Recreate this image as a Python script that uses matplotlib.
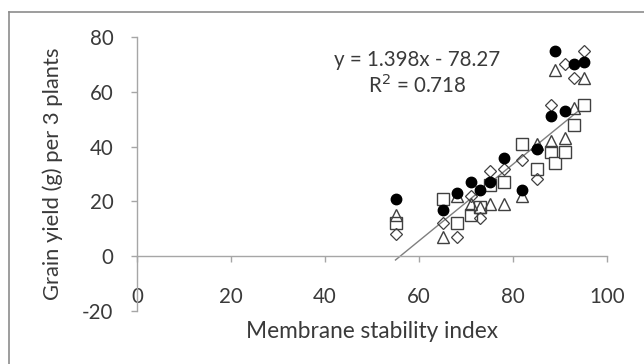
import matplotlib
matplotlib.use("Agg")
import matplotlib.pyplot as plt
import numpy as np
from matplotlib.lines import Line2D

plt.rcParams['font.family'] = ['Lato', 'DejaVu Sans']

# Data (Membrane stability index, grain yield)
circ_x = [55, 65, 68, 71, 73, 75, 78, 82, 85, 88, 89, 91, 93, 95]
circ_y = [21, 17, 23, 27, 24, 27, 36, 24, 39, 51, 75, 53, 70, 71]
sq_x = [55, 65, 68, 71, 73, 75, 78, 82, 85, 88, 89, 91, 93, 95]
sq_y = [12, 21, 12, 15, 18, 26, 27, 41, 32, 38, 34, 38, 48, 55]
tri_x = [55, 65, 68, 71, 73, 75, 78, 82, 85, 88, 89, 91, 93, 95]
tri_y = [15, 7, 22, 19, 18, 19, 19, 22, 41, 42, 68, 43, 54, 65]
dia_x = [55, 65, 68, 71, 73, 75, 78, 82, 85, 88, 91, 93, 95]
dia_y = [8, 12, 7, 22, 14, 31, 32, 35, 28, 55, 70, 65, 75]
slope, intercept = 1.398, -78.27
fit_x = [55, 95]
x_ticks = [0, 20, 40, 60, 80, 100]
y_ticks = [-20, 0, 20, 40, 60, 80]

W, H = 644, 364
fig = plt.figure(figsize=(W / 100, H / 100), dpi=100)
ax = fig.add_axes([137 / W, 1 - 311 / H, 470 / W, 274 / H])

txt = '#3a3a3a'
axc = '#a6a6a6'
edge = '#404040'
fs = 14.8

ax.plot(sq_x, sq_y, 's', ms=8.5, mfc='white', mec=edge, mew=1.0, zorder=3)
ax.plot(tri_x, tri_y, '^', ms=8.5, mfc='none', mec=edge, mew=1.0, zorder=4)
ax.plot(dia_x, dia_y, 'D', ms=6, mfc='none', mec=edge, mew=0.9, zorder=4)
ax.plot(circ_x, circ_y, 'o', ms=7.5, mfc='black', mec='black', zorder=5)
fx = np.array(fit_x, dtype=float)
ax.plot(fx, slope * fx + intercept, '-', color='#7f7f7f', lw=1.0, zorder=2)

ax.set_xlim(0, 100)
ax.set_ylim(-20, 80)
ax.set_xticks(x_ticks)
ax.set_yticks(y_ticks)
ax.set_xticklabels([str(v) for v in x_ticks])
ax.set_yticklabels([str(v) for v in y_ticks])

for s in ['top', 'right']:
    ax.spines[s].set_visible(False)
ax.spines['bottom'].set_position(('data', 0))
ax.spines['left'].set_position(('data', 0))
for s in ['bottom', 'left']:
    ax.spines[s].set_color(axc)
    ax.spines[s].set_linewidth(1.0)

ax.tick_params(axis='x', direction='out', length=4, width=1, color=axc,
               labelsize=fs, labelcolor=txt, pad=18)
ax.tick_params(axis='y', direction='out', length=4, width=1, color=axc,
               labelsize=fs, labelcolor=txt, pad=13)

ax.set_xlabel('Membrane stability index', fontsize=16.3, color=txt)
ax.xaxis.set_label_coords(0.5, -0.075)
ax.xaxis.label.set_verticalalignment('center')
ax.set_ylabel('Grain yield (g) per 3 plants', fontsize=15.8, color=txt)
ax.yaxis.set_label_coords(-(137 - 53) / 470, 0.5)
ax.yaxis.label.set_verticalalignment('center')

fig.text(417 / W, 1 - 60 / H, 'y = 1.398x - 78.27', fontsize=fs, color=txt,
         ha='center', va='center')
fig.text(417 / W, 1 - 85 / H, 'R$^2$ = 0.718', fontsize=fs, color=txt,
         ha='center', va='center')

ax.patch.set_visible(False)
fig.add_artist(Line2D([9 / W, 9 / W], [0, 1 - 12 / H], transform=fig.transFigure,
                      color='#8c8c8c', lw=1.2))
fig.add_artist(Line2D([9 / W, 1], [1 - 12 / H, 1 - 12 / H], transform=fig.transFigure,
                      color='#8c8c8c', lw=1.2))

fig.savefig('out.png', dpi=100)
